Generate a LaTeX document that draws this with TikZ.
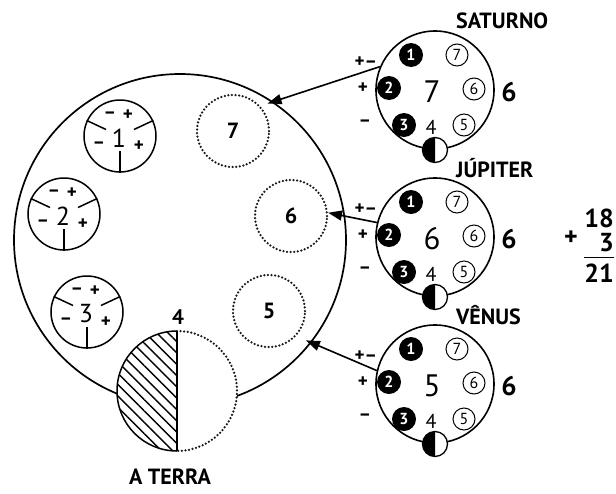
\documentclass[tikz,border=0pt]{standalone}
\usepackage{fontspec}
\setmainfont{PT Sans}
\usetikzlibrary{arrows.meta,patterns.meta,calc}

\newcommand{\tam}[1]{\fontsize{#1}{#1}\selectfont}

\begin{document}
\begin{tikzpicture}[x=1pt,y=-1pt,
  linha/.style={line width=1.5pt},
  orbita/.style={circle,draw,line width=1.7pt,minimum size=332pt,inner sep=0pt},
  casa/.style={circle,draw,line width=1.5pt,minimum size=72pt,inner sep=0pt},
  pontos/.style={line width=2.5pt,dash pattern=on 0pt off 3.6pt,line cap=round,draw=black!90},
  lugar/.style={circle,pontos,minimum size=72pt,inner sep=0pt,font=\bfseries\tam{22}},
  planeta/.style={circle,draw,line width=1.6pt,minimum size=118pt,inner sep=0pt},
  cheio/.style={circle,fill=black,text=white,minimum size=24pt,inner sep=0pt,font=\bfseries\tam{16}},
  vazio/.style={circle,draw,line width=1pt,minimum size=22pt,inner sep=0pt,font=\tam{16}},
  lua/.style={circle,draw,line width=1.3pt,fill=white,minimum size=25pt,inner sep=0pt},
  txt/.style={inner sep=0pt,font=\tam{#1}},
  sinal/.style={inner sep=0pt,font=\bfseries\tam{#1}},
  rot/.style={inner sep=0pt,font=\bfseries\tam{22}},
  soma/.style={inner sep=0pt,anchor=east,font=\bfseries\tam{26}},
  seta/.style={-{Triangle[length=14pt,width=10pt]},line width=1.6pt}
]
\useasboundingbox (0,0) rectangle (616,493);

% the orbit and the three houses
\node[orbita] (orb) at (180,240) {};
\foreach \n/\px/\py in {1/120/136, 2/64/214, 3/87/312}{
  \node[casa] (s\n) at (\px,\py) {};
  \node[txt=26] (s\n num) at ([shift={(-1,2)}]s\n.center) {\n};
  \foreach \a in {155,25,270}
    \draw[line width=1.5pt] (s\n.\a) -- ($(s\n.center)!0.42!(s\n.\a)$);
  \node[sinal=19] (s\n a) at ([shift={(-10,-21)}]s\n.center) {–};
  \node[sinal=19] (s\n b) at ([shift={(8,-21)}]s\n.center) {+};
  \node[sinal=19] (s\n c) at ([shift={(-21,9)}]s\n.center) {–};
  \node[sinal=19] (s\n d) at ([shift={(19,10)}]s\n.center) {+};
}

% dotted places
\node[lugar] (c7) at (233,131) {7};
\node[lugar] (c6) at (291,216) {6};
\node[lugar] (c5) at (269,311) {5};

% the earth
\node[circle,minimum size=120pt,inner sep=0pt] (terra) at (177,391) {};
\begin{scope}[shift={(terra.center)},y=1pt]
  \fill[white] (0,60) arc[start angle=90,end angle=270,radius=60] -- cycle;
  \fill[pattern={Lines[angle=-45,distance=8pt,line width=1.4pt]}] (0,60) arc[start angle=90,end angle=270,radius=60] -- cycle;
  \draw[linha] (0,60) arc[start angle=90,end angle=270,radius=60];
  \fill[white] (0,60) arc[start angle=90,end angle=-90,radius=60] -- cycle;
  \draw[pontos] (0,60) arc[start angle=90,end angle=-90,radius=60];
\end{scope}
\draw[linha] (terra.north) -- (terra.south);
\node[inner sep=0pt,font=\bfseries\tam{21}] (quatro) at (178,317) {4};
\node[rot] (nometerra) at (170,477) {A TERRA};

% planets
\foreach \p/\cy/\n/\nome in {sat/90/7/SATURNO, jup/237/6/JÚPITER, ven/384/5/VÊNUS}{
  \node[planeta] (\p) at (435,\cy) {};
  \node[rot,anchor=west] (\p nome) at (456,\cy-69) {\nome};
  \node[cheio] (\p um) at (411,\cy-35) {1};
  \node[vazio] (\p sete) at (457,\cy-35) {7};
  \node[cheio] (\p dois) at (389,\cy-2) {2};
  \node[txt=31] (\p num) at (432,\cy+2) {\n};
  \node[vazio] (\p seis) at (474,\cy-1) {6};
  \node[sinal=27] (\p fora) at (509,\cy+2) {6};
  \node[cheio] (\p tres) at (404,\cy+35) {3};
  \node[txt=20] (\p quatro) at (431,\cy+37) {4};
  \node[vazio] (\p cinco) at (464,\cy+35) {5};
  \node[sinal=19] (\p a) at (366,\cy-28) {+–};
  \node[sinal=19] (\p b) at (363,\cy-2) {+};
  \node[sinal=19] (\p c) at (365,\cy+33) {–};
  \node[lua] (\p lua) at (435,\cy+60) {};
  \begin{scope}
    \clip (\p lua.north) rectangle ([xshift=-3pt,yshift=-3pt]\p lua.south west);
    \fill (\p lua.center) circle[radius=12.5pt];
  \end{scope}
}

\draw[seta,shorten >=-6pt] (sat.157) -- (orb.56);
\draw[seta] (jup.166) -- (c6.5);
\draw[seta,shorten >=-6pt] (ven.167) -- (orb.-38);

% the sum
\node[inner sep=0pt,font=\bfseries\tam{26}] (mais) at (571,238) {+};
\node[soma] (n18) at (614,218) {18};
\node[soma] (n3) at (614,243) {3};
\node[soma] (n21) at (614,273) {21};
\draw[line width=1.8pt] ([yshift=6pt]n21.north west) -- ([yshift=6pt]n21.north east);
\end{tikzpicture}
\end{document}
